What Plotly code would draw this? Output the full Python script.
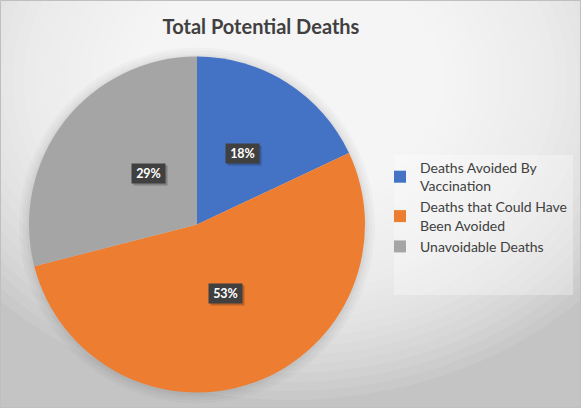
import numpy as np
import plotly.graph_objects as go

# chart data (percent of total potential deaths)
labels = ["Deaths Avoided By<br>Vaccination",
          "Deaths that Could Have<br>Been Avoided",
          "Unavoidable Deaths"]
values = [18, 53, 29]
colors = ["#4472C4", "#ED7D31", "#A5A5A5"]

W, H = 581, 408
cx, cy, R = 197, 224.5, 168   # pie centre / radius in pixels


def px_x(x):
    return x / W


def px_y(y):
    return 1 - y / H


fig = go.Figure(go.Pie(
    labels=labels,
    values=values,
    sort=False,
    direction="clockwise",
    rotation=0,
    marker=dict(colors=colors, line=dict(width=0)),
    textinfo="none",
    hoverinfo="label+percent",
    domain=dict(x=[px_x(cx - R), px_x(cx + R)], y=[px_y(cy + R), px_y(cy - R)]),
))

shapes = []
# radial background gradient, built from stacked translucent ellipses
gx, gy = 290, 80
for r in np.linspace(400, 10, 36):
    shapes.append(dict(type="circle", xref="paper", yref="paper", layer="below",
                       x0=px_x(gx - r), x1=px_x(gx + r),
                       y0=px_y(gy + r * 0.8), y1=px_y(gy - r * 0.8),
                       fillcolor="rgba(255,255,255,0.09)", line=dict(width=0)))
# soft shadow under the pie
for grow in [10, 7, 4, 2]:
    shapes.append(dict(type="circle", xref="paper", yref="paper", layer="below",
                       x0=px_x(cx - R - grow), x1=px_x(cx + R + grow),
                       y0=px_y(cy + R + grow + 1), y1=px_y(cy - R - grow + 1),
                       fillcolor="rgba(0,0,0,0.025)", line=dict(width=0)))
# legend panel
shapes.append(dict(type="rect", xref="paper", yref="paper", layer="below",
                   x0=px_x(394), x1=px_x(573), y0=px_y(295), y1=px_y(155),
                   fillcolor="rgba(255,255,255,0.3)", line=dict(width=0)))
# chart border
shapes.append(dict(type="rect", xref="paper", yref="paper", layer="above",
                   x0=px_x(0.5), x1=px_x(W - 0.5), y0=px_y(H - 0.5), y1=px_y(0.5),
                   line=dict(color="#BFBFBF", width=1)))

# percentage labels in dark boxes, placed at half radius of each slice
total = sum(values)
annotations = []
start = 0
for v in values:
    mid = (start + v / 2) / total * 2 * np.pi
    start += v
    lx = cx + 0.5 * R * np.sin(mid)
    ly = cy - 0.5 * R * np.cos(mid)
    # drop shadow box
    annotations.append(dict(x=px_x(lx), y=px_y(ly), xref="paper", yref="paper",
                            text=" ", showarrow=False, xshift=2, yshift=-2,
                            width=33, height=19, borderpad=0,
                            bgcolor="rgba(0,0,0,0.22)"))
    annotations.append(dict(x=px_x(lx), y=px_y(ly), xref="paper", yref="paper",
                            text=f"<b>{round(v / total * 100)}%</b>",
                            showarrow=False, width=33, height=19, borderpad=0,
                            font=dict(family="Lato", size=12.5, color="white"),
                            bgcolor="#404040"))

fig.update_layout(
    width=W, height=H,
    margin=dict(l=0, r=0, t=0, b=0, autoexpand=False),
    paper_bgcolor="#C4C4C4",
    title=dict(text="<b>Total Potential Deaths</b>", x=px_x(261), xanchor="center",
               y=px_y(27), yanchor="middle",
               font=dict(family="Lato", size=20, color="#404040")),
    legend=dict(x=px_x(380), y=px_y(152), xanchor="left", yanchor="top",
                bgcolor="rgba(0,0,0,0)",
                font=dict(family="Lato", size=14, color="#404040"),
                itemwidth=30),
    shapes=shapes,
    annotations=annotations,
)

fig.write_html("out.html", config={"displayModeBar": False},
               post_script="document.body.style.margin='0';")
